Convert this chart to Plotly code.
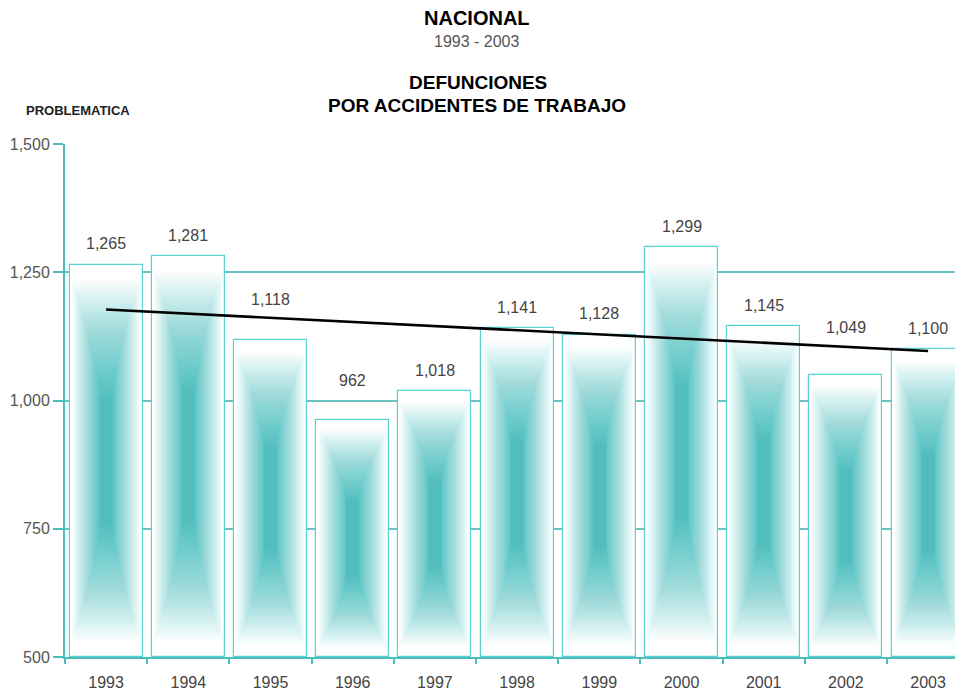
import numpy as np
import plotly.graph_objects as go

years = ["1993", "1994", "1995", "1996", "1997", "1998", "1999", "2000", "2001", "2002", "2003"]
deaths = [1265, 1281, 1118, 962, 1018, 1141, 1128, 1299, 1145, 1049, 1100]
y_ticks = [500, 750, 1000, 1250, 1500]

TEAL = "#4cbcbc"
GRID = "#6cc2c2"
FONT = "Arial, Liberation Sans, sans-serif"
Y0 = 500
# labels that were moved up in the original to avoid the trend line / grid
label_lift = {"1995": 40, "1996": 39, "2002": 48}
DEFAULT_LIFT = 21

x = np.arange(len(years))
vals = np.array(deaths, dtype=float)

fig = go.Figure()

# outline bars (white fill, teal edge)
fig.add_trace(go.Bar(
    x=x, y=vals - Y0, base=Y0, width=0.89,
    marker=dict(color="white", line=dict(color="#5ad2d2", width=1.2)),
    hoverinfo="skip", showlegend=False))

# layered translucent bars to imitate the dithered gradient fill
N = 48
for i in range(N):
    t = i / (N - 1)
    w = 0.15 + 0.69 * (1 - t) ** 1.7
    frac = 0.32 + 0.60 * (1 - t) ** 1.2
    h = (vals - Y0) * frac
    b = Y0 + (vals - Y0) * (1 - frac) / 2
    fig.add_trace(go.Bar(
        x=x, y=h, base=b, width=w,
        marker=dict(color="rgb(40,192,192)", opacity=0.028, line=dict(width=0)),
        hoverinfo="skip", showlegend=False))

# linear trend line (least squares, like a spreadsheet trendline)
slope, intercept = np.polyfit(x, vals, 1)
fig.add_trace(go.Scatter(
    x=[x[0], x[-1]], y=[intercept + slope * x[0], intercept + slope * x[-1]],
    mode="lines", line=dict(color="black", width=2.6),
    hoverinfo="skip", showlegend=False))

annotations = []
for xi, yr, v in zip(x, years, deaths):
    annotations.append(dict(
        x=xi, y=v, xref="x", yref="y", text=f"{v:,}", showarrow=False,
        yanchor="middle", yshift=label_lift.get(yr, DEFAULT_LIFT),
        font=dict(family=FONT, size=16, color="#444444")))

# page body has an 8px margin, so the figure is laid out in page coords minus 8
OFF = 8
W, H = 963 - OFF, 694 - OFF
L, T, BOT = 65 - OFF, 144 - OFF, 657 - OFF
B = H - BOT
PW = W - L
PH = BOT - T

def px(xp):
    return (xp - OFF - L) / PW

def py(yp):
    return (BOT - (yp - OFF)) / PH

annotations += [
    dict(x=px(477), y=py(18), xref="paper", yref="paper", text="<b>NACIONAL</b>",
         showarrow=False, xanchor="center", yanchor="middle",
         font=dict(family=FONT, size=20, color="black")),
    dict(x=px(477), y=py(42), xref="paper", yref="paper", text="1993 - 2003",
         showarrow=False, xanchor="center", yanchor="middle",
         font=dict(family=FONT, size=16, color="#555555")),
    dict(x=px(478), y=py(83), xref="paper", yref="paper", text="<b>DEFUNCIONES</b>",
         showarrow=False, xanchor="center", yanchor="middle",
         font=dict(family=FONT, size=19, color="black")),
    dict(x=px(477), y=py(106), xref="paper", yref="paper",
         text="<b>POR ACCIDENTES DE TRABAJO</b>",
         showarrow=False, xanchor="center", yanchor="middle",
         font=dict(family=FONT, size=19, color="black")),
    dict(x=px(24), y=py(111), xref="paper", yref="paper", text="<b>PROBLEMATICA</b>",
         showarrow=False, xanchor="left", yanchor="middle",
         font=dict(family=FONT, size=13, color="#222222")),
]

fig.update_layout(
    width=W, height=H,
    margin=dict(l=L, r=0, t=T, b=B, autoexpand=False),
    paper_bgcolor="white", plot_bgcolor="white",
    barmode="overlay", bargap=0,
    showlegend=False,
    annotations=annotations,
    font=dict(family=FONT),
)

fig.update_xaxes(
    automargin=False,
    range=[-0.5, PW / 82.2 - 0.5],
    tickmode="array", tickvals=list(x), ticktext=years,
    ticks="outside", ticklen=10, tickcolor="rgba(0,0,0,0)",
    tickfont=dict(family=FONT, size=16, color="#444444"),
    showgrid=False, zeroline=False,
    showline=True, linecolor=TEAL, linewidth=2,
    minor=dict(tickvals=[i - 0.5 for i in range(len(years) + 1)],
               ticks="outside", ticklen=5, tickcolor=TEAL, tickwidth=1.5, showgrid=False),
)

fig.update_yaxes(
    automargin=False,
    range=[500, 1500],
    tickmode="array", tickvals=y_ticks, tickformat=",",
    ticks="outside", ticklen=10, tickcolor=TEAL, tickwidth=1.5,
    tickfont=dict(family=FONT, size=16, color="#555555"),
    showgrid=True, gridcolor=GRID, gridwidth=2,
    zeroline=False,
    showline=True, linecolor=TEAL, linewidth=2,
)

fig.write_html("out.html")
